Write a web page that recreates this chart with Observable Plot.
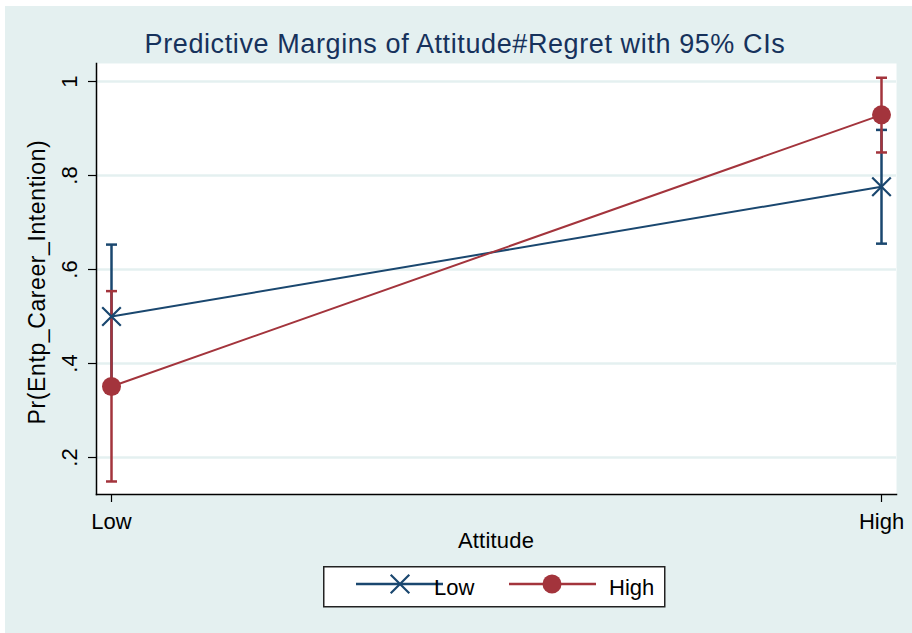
<!DOCTYPE html>
<html>
<head>
<meta charset="utf-8">
<script src="https://cdn.jsdelivr.net/npm/d3@7"></script>
<script src="https://cdn.jsdelivr.net/npm/@observablehq/plot@0.6"></script>
<style>
  body { margin: 0; background: #ffffff; font-family: Arial, "Liberation Sans", sans-serif; }
  #wrap { position: relative; width: 912px; height: 633px; overflow: hidden; background: #fff; }
  #bg { position: absolute; left: 5px; top: 6px; right: 0; bottom: 0; background: #e4f0f0; }
  #title { position: absolute; left: 0; width: 930px; top: 29px; text-align: center;
           font-size: 27px; letter-spacing: 0.6px; color: #16325c; white-space: nowrap; }
  #ylab { position: absolute; left: 37px; top: 282px; transform: translate(-50%, -50%) rotate(-90deg);
          font-size: 23px; letter-spacing: 0.6px; color: #000; white-space: nowrap; }
  #xlab { position: absolute; left: 496px; top: 528px; transform: translateX(-50%);
          font-size: 22px; letter-spacing: 0.2px; color: #000; white-space: nowrap; }
  #chart { position: absolute; left: 0; top: 60px; }
  #legend { position: absolute; left: 323px; top: 566px; }
</style>
</head>
<body>
<div id="wrap">
  <div id="bg"></div>
  <div id="title">Predictive Margins of Attitude#Regret with 95% CIs</div>
  <div id="chart"></div>
  <div id="ylab">Pr(Entp_Career_Intention)</div>
  <div id="xlab">Attitude</div>
  <div id="legend"></div>
</div>
<script>
// ---- data ----
const attitudeLevels = ["Low", "High"];
const regretLevels = ["Low", "High"];
const marginRegretLow = [0.500, 0.776];
const lowerRegretLow = [0.347, 0.655];
const upperRegretLow = [0.653, 0.897];
const marginRegretHigh = [0.351, 0.929];
const lowerRegretHigh = [0.149, 0.849];
const upperRegretHigh = [0.554, 1.008];
const yTicks = [0.2, 0.4, 0.6, 0.8, 1];

// ---- styles ----
const BLUE = "#1a476f";
const RED = "#a3343c";

const rows = [];
attitudeLevels.forEach((a, i) => {
  rows.push({attitude: a, regret: "Low", margin: marginRegretLow[i], lo: lowerRegretLow[i], hi: upperRegretLow[i]});
});
attitudeLevels.forEach((a, i) => {
  rows.push({attitude: a, regret: "High", margin: marginRegretHigh[i], lo: lowerRegretHigh[i], hi: upperRegretHigh[i]});
});
const rowsLow = rows.filter(d => d.regret === "Low");
const rowsHigh = rows.filter(d => d.regret === "High");

const capSymbol = {
  draw(ctx, size) {
    const w = Math.sqrt(size / Math.PI);
    ctx.moveTo(-w, 0);
    ctx.lineTo(w, 0);
  }
};

const fmt = d => d === 1 ? "1" : String(+d.toFixed(1)).replace(/^0/, "");

const color = {domain: regretLevels, range: [BLUE, RED]};

const chart = Plot.plot({
  width: 912,
  height: 500,
  marginTop: 3,
  marginBottom: 66,
  marginLeft: 96,
  marginRight: 16,
  style: {background: "transparent", fontFamily: "Arial, 'Liberation Sans', sans-serif", color: "#000"},
  x: {type: "point", domain: attitudeLevels, padding: 0, inset: 15},
  y: {domain: [0.1213, 1.0383]},
  color,
  marks: [
    Plot.frame({fill: "white", stroke: null}),
    Plot.gridY(yTicks, {stroke: "#e4f0f0", strokeOpacity: 1, strokeWidth: 2.5}),
    Plot.frame({anchor: "left", stroke: "#000", strokeWidth: 1.5}),
    Plot.frame({anchor: "bottom", stroke: "#000", strokeWidth: 1.5}),
    Plot.axisY(yTicks, {tickSize: 8, tickPadding: 12, tickRotate: -90, fontSize: 22,
      tickFormat: fmt, label: null, stroke: "#000", strokeWidth: 1.2}),
    Plot.axisX({tickSize: 8, tickPadding: 11, fontSize: 22, label: null, stroke: "#000", strokeWidth: 1.2}),
    // confidence intervals
    Plot.ruleX(rowsLow, {x: "attitude", y1: "lo", y2: "hi", stroke: "regret", strokeWidth: 2.5}),
    Plot.dot(rowsLow, {x: "attitude", y: "lo", symbol: capSymbol, r: 5.5, stroke: "regret", strokeWidth: 2.5}),
    Plot.dot(rowsLow, {x: "attitude", y: "hi", symbol: capSymbol, r: 5.5, stroke: "regret", strokeWidth: 2.5}),
    Plot.ruleX(rowsHigh, {x: "attitude", y1: "lo", y2: "hi", stroke: "regret", strokeWidth: 2.5}),
    Plot.dot(rowsHigh, {x: "attitude", y: "lo", symbol: capSymbol, r: 5.5, stroke: "regret", strokeWidth: 2.5}),
    Plot.dot(rowsHigh, {x: "attitude", y: "hi", symbol: capSymbol, r: 5.5, stroke: "regret", strokeWidth: 2.5}),
    // lines
    Plot.line(rowsLow, {x: "attitude", y: "margin", stroke: "regret", strokeWidth: 2}),
    Plot.line(rowsHigh, {x: "attitude", y: "margin", stroke: "regret", strokeWidth: 2}),
    // markers
    Plot.dot(rowsLow, {x: "attitude", y: "margin", symbol: "times", r: 8.5, stroke: "regret", strokeWidth: 2.2}),
    Plot.dot(rowsHigh, {x: "attitude", y: "margin", symbol: "circle", r: 9.5, fill: "regret", stroke: null})
  ]
});
document.getElementById("chart").appendChild(chart);

// ---- legend (line + symbol keys) ----
const lg = d3.select("#legend").append("svg")
  .attr("width", 343).attr("height", 42)
  .style("display", "block");
lg.append("rect").attr("x", 0.75).attr("y", 0.75).attr("width", 341).attr("height", 40)
  .attr("fill", "white").attr("stroke", "#222").attr("stroke-width", 1.5);
const keys = [
  {label: regretLevels[0], color: BLUE, x0: 33, x1: 120, sx: 77, sym: "times", tx: 111},
  {label: regretLevels[1], color: RED, x0: 186, x1: 273, sx: 229, sym: "circle", tx: 286}
];
keys.forEach(k => {
  lg.append("line").attr("x1", k.x0).attr("x2", k.x1).attr("y1", 18).attr("y2", 18)
    .attr("stroke", k.color).attr("stroke-width", 2.5);
  if (k.sym === "times") {
    lg.append("path").attr("d", d3.symbol(d3.symbolTimes, Math.PI * 8.5 * 8.5)())
      .attr("transform", `translate(${k.sx},18)`).attr("stroke", k.color).attr("stroke-width", 2.2).attr("fill", "none");
  } else {
    lg.append("circle").attr("cx", k.sx).attr("cy", 18).attr("r", 9.5).attr("fill", k.color);
  }
  lg.append("text").attr("x", k.tx).attr("y", 29).text(k.label)
    .attr("font-size", 22)
    .attr("font-family", "Arial, 'Liberation Sans', sans-serif").attr("fill", "#000");
});
</script>
</body>
</html>
